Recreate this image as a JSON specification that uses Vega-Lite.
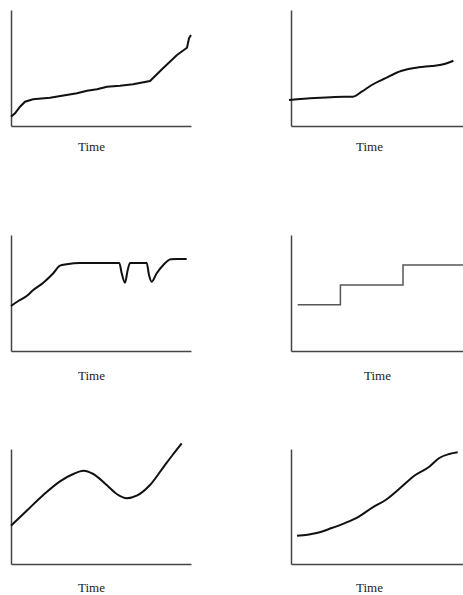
{
  "$schema": "https://vega.github.io/schema/vega-lite/v6.json",
  "background": "white",
  "padding": {"left": 7, "top": 10, "right": 0, "bottom": 0},
  "config": {
    "view": {"stroke": null},
    "axis": {"grid": false, "ticks": false, "labels": false, "domainColor": "#444", "domainWidth": 1.5, "titleFont": "Liberation Serif", "titleFontSize": 13, "titleFontWeight": "normal", "titleColor": "#222"},
    "line": {"color": "#111", "strokeWidth": 2, "clip": false}
  },
  "datasets": {
    "p1": [
      {"t": 0, "v": 9.3}, {"t": 4, "v": 12.7}, {"t": 9, "v": 19.3}, {"t": 14, "v": 24.3}, {"t": 22, "v": 26.7},
      {"t": 39, "v": 28.3}, {"t": 66, "v": 32.7}, {"t": 76, "v": 35.3}, {"t": 86, "v": 36.7}, {"t": 96, "v": 39.3},
      {"t": 109, "v": 40.3}, {"t": 122, "v": 41.7}, {"t": 139, "v": 45}, {"t": 152, "v": 57.7}, {"t": 166, "v": 71},
      {"t": 176, "v": 78.3}, {"t": 178, "v": 87.7}, {"t": 180, "v": 91}
    ],
    "p2": [
      {"t": -2, "v": 26}, {"t": 24, "v": 28}, {"t": 44, "v": 29}, {"t": 62, "v": 29.3}, {"t": 70.7, "v": 34.3},
      {"t": 80.7, "v": 41}, {"t": 94, "v": 47.7}, {"t": 110.7, "v": 55.3}, {"t": 127.4, "v": 58.7}, {"t": 140.7, "v": 60},
      {"t": 152.4, "v": 61.7}, {"t": 162.4, "v": 65.3}
    ],
    "p3": [
      {"t": 0, "v": 45}, {"t": 7.3, "v": 50}, {"t": 15.7, "v": 55}, {"t": 22.3, "v": 61}, {"t": 32.3, "v": 68.3},
      {"t": 42.3, "v": 77.7}, {"t": 49, "v": 85.3}, {"t": 55.7, "v": 86.7}, {"t": 69, "v": 88}, {"t": 89, "v": 88},
      {"t": 108.3, "v": 88}, {"t": 110.7, "v": 77.7}, {"t": 114, "v": 68.3}, {"t": 116.7, "v": 81}, {"t": 119, "v": 88},
      {"t": 135.7, "v": 88}, {"t": 138, "v": 76}, {"t": 140.7, "v": 69.3}, {"t": 145.7, "v": 77.7}, {"t": 152.3, "v": 86},
      {"t": 159.7, "v": 91.7}, {"t": 165.7, "v": 92}, {"t": 175.7, "v": 92}
    ],
    "p4": [
      {"t": 6.7, "v": 46.3}, {"t": 49.4, "v": 66}, {"t": 112, "v": 86}, {"t": 180, "v": 86}
    ],
    "p5": [
      {"t": 0, "v": 38.3}, {"t": 15.7, "v": 53.3}, {"t": 32.3, "v": 69}, {"t": 49, "v": 82.7}, {"t": 62.3, "v": 90},
      {"t": 72.3, "v": 93.3}, {"t": 82.3, "v": 90}, {"t": 95.7, "v": 79}, {"t": 105.7, "v": 70}, {"t": 115.7, "v": 65.7},
      {"t": 125.7, "v": 68.3}, {"t": 139, "v": 79}, {"t": 152.3, "v": 96.7}, {"t": 162.3, "v": 110}, {"t": 170.7, "v": 120.7}
    ],
    "p6": [
      {"t": 6, "v": 28.3}, {"t": 16.7, "v": 29.3}, {"t": 26.7, "v": 31.3}, {"t": 40, "v": 35.7}, {"t": 53.3, "v": 40.7},
      {"t": 68.3, "v": 47.7}, {"t": 81.7, "v": 56.7}, {"t": 95, "v": 64.3}, {"t": 110, "v": 76.7}, {"t": 123.3, "v": 88.3},
      {"t": 138.3, "v": 97.3}, {"t": 148.3, "v": 106}, {"t": 158.3, "v": 110}, {"t": 166.7, "v": 111.7}
    ]
  },
  "spacing": 225,
  "bounds": "flush",
  "vconcat": [
    {
      "spacing": 100,
      "bounds": "flush",
      "hconcat": [
        {
          "width": 180, "height": 116,
          "data": {"name": "p1"},
          "mark": {"type": "line", "interpolate": "linear"},
          "encoding": {
            "x": {"field": "t", "type": "quantitative", "scale": {"domain": [0, 180], "nice": false, "zero": false}, "axis": {"title": "Time", "titleX": 80, "titleY": 20, "titleBaseline": "middle"}},
            "y": {"field": "v", "type": "quantitative", "scale": {"domain": [0, 116], "nice": false}, "axis": {"title": null}}
          }
        },
        {
          "width": 180, "height": 116,
          "data": {"name": "p2"},
          "mark": {"type": "line", "interpolate": "monotone"},
          "encoding": {
            "x": {"field": "t", "type": "quantitative", "scale": {"domain": [0, 180], "nice": false, "zero": false}, "axis": {"title": "Time", "titleX": 78, "titleY": 20, "titleBaseline": "middle"}},
            "y": {"field": "v", "type": "quantitative", "scale": {"domain": [0, 116], "nice": false}, "axis": {"title": null}}
          }
        }
      ]
    },
    {
      "spacing": 214,
      "bounds": "flush",
      "vconcat": [
        {
          "spacing": 100,
          "bounds": "flush",
          "hconcat": [
            {
              "width": 180, "height": 116,
              "data": {"name": "p3"},
              "mark": {"type": "line", "interpolate": "monotone"},
              "encoding": {
                "x": {"field": "t", "type": "quantitative", "scale": {"domain": [0, 180], "nice": false, "zero": false}, "axis": {"title": "Time", "titleX": 80, "titleY": 24, "titleBaseline": "middle"}},
                "y": {"field": "v", "type": "quantitative", "scale": {"domain": [0, 116], "nice": false}, "axis": {"title": null}}
              }
            },
            {
              "width": 180, "height": 116,
              "data": {"name": "p4"},
              "mark": {"type": "line", "interpolate": "step-after", "color": "#555", "strokeWidth": 1.5},
              "encoding": {
                "x": {"field": "t", "type": "quantitative", "scale": {"domain": [0, 180], "nice": false, "zero": false}, "axis": {"title": "Time", "titleX": 86, "titleY": 24, "titleBaseline": "middle"}},
                "y": {"field": "v", "type": "quantitative", "scale": {"domain": [0, 116], "nice": false}, "axis": {"title": null}}
              }
            }
          ]
        },
        {
          "spacing": 100,
          "bounds": "flush",
          "hconcat": [
            {
              "width": 180, "height": 115,
              "data": {"name": "p5"},
              "mark": {"type": "line", "interpolate": "monotone"},
              "encoding": {
                "x": {"field": "t", "type": "quantitative", "scale": {"domain": [0, 180], "nice": false, "zero": false}, "axis": {"title": "Time", "titleX": 80, "titleY": 23, "titleBaseline": "middle"}},
                "y": {"field": "v", "type": "quantitative", "scale": {"domain": [0, 115], "nice": false}, "axis": {"title": null}}
              }
            },
            {
              "width": 180, "height": 115,
              "data": {"name": "p6"},
              "mark": {"type": "line", "interpolate": "monotone"},
              "encoding": {
                "x": {"field": "t", "type": "quantitative", "scale": {"domain": [0, 180], "nice": false, "zero": false}, "axis": {"title": "Time", "titleX": 78, "titleY": 23, "titleBaseline": "middle"}},
                "y": {"field": "v", "type": "quantitative", "scale": {"domain": [0, 115], "nice": false}, "axis": {"title": null}}
              }
            }
          ]
        }
      ]
    }
  ]
}
